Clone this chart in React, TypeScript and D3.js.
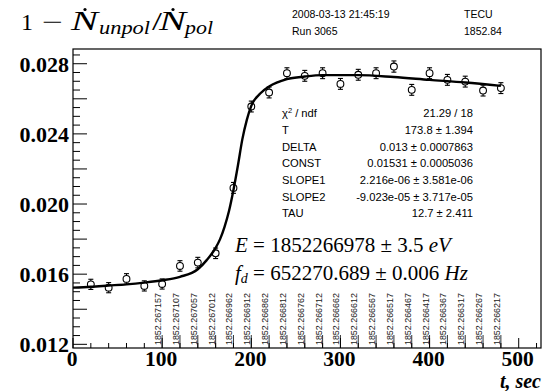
import React from 'react';
import * as d3 from 'd3';

// ---- data ----
const times = [20, 40, 60, 80, 100, 120, 140, 160, 180, 200, 220, 240, 260, 280, 300, 320, 340, 360, 380, 400, 420, 440, 460, 480];
const values = [0.01542, 0.01523, 0.01573, 0.01533, 0.01544, 0.01647, 0.01666, 0.01719, 0.02092, 0.02556, 0.02636, 0.02746, 0.02731, 0.02746, 0.02685, 0.02737, 0.02746, 0.02784, 0.02651, 0.02746, 0.02708, 0.02698, 0.02647, 0.02661];
const errors = [0.00029, 0.00029, 0.0003, 0.00029, 0.00029, 0.0003, 0.0003, 0.0003, 0.00031, 0.00031, 0.00031, 0.00031, 0.00031, 0.00031, 0.00031, 0.00031, 0.00031, 0.00032, 0.00031, 0.00031, 0.00031, 0.00031, 0.00031, 0.00031];

const fitTimes = [0, 20, 40, 60, 80, 100, 120, 140, 150, 160, 165, 170, 175, 180, 185, 190, 195, 200, 210, 220, 240, 260, 280, 320, 360, 400, 440, 480];
const fitValues = [0.01523, 0.01528, 0.01535, 0.01542, 0.01552, 0.01565, 0.01585, 0.01628, 0.0168, 0.0175, 0.0180, 0.0187, 0.0196, 0.0208, 0.0222, 0.0237, 0.0248, 0.0256, 0.0263, 0.0267, 0.02712, 0.02727, 0.02735, 0.02735, 0.02724, 0.02708, 0.02693, 0.02674];

const yTickValues = [0.012, 0.016, 0.020, 0.024, 0.028];
const yTickLabels = ['0.012', '0.016', '0.020', '0.024', '0.028'];
const xTickValues = [0, 100, 200, 300, 400, 500];
const xTickLabels = ['0', '100', '200', '300', '400', '500'];

const energyTimes = [100, 120, 140, 160, 180, 200, 220, 240, 260, 280, 300, 320, 340, 360, 380, 400, 420, 440, 460, 480];
const energyLabels = ['1852.267157', '1852.267107', '1852.267057', '1852.267012', '1852.266962', '1852.266912', '1852.266862', '1852.266812', '1852.266762', '1852.266712', '1852.266662', '1852.266612', '1852.266567', '1852.266517', '1852.266467', '1852.266417', '1852.266367', '1852.266317', '1852.266267', '1852.266217'];

const statNames = ['DELTA', 'CONST', 'SLOPE1', 'SLOPE2', 'TAU'];
const statValues = ['0.013 \u00b1 0.0007863', '0.01531 \u00b1 0.0005036', '2.216e-06 \u00b1 3.581e-06', '-9.023e-05 \u00b1 3.717e-05', '12.7 \u00b1 2.411'];
const chiValue = '21.29 / 18';
const tName = 'T';
const tValue = '173.8 \u00b1 1.394';

const headerDate = '2008-03-13 21:45:19';
const headerRun = 'Run 3065';
const headerName = 'TECU';
const headerVolt = '1852.84';

export default function App() {
  const W = 546, H = 391;
  const left = 73, right = 541, top = 49, bottom = 348;
  const x = d3.scaleLinear().domain([0, 525]).range([left, right]);
  const y = d3.scaleLinear().domain([0.01179, 0.02884]).range([bottom, top]);

  const fitData = fitTimes.map((t, i) => [t, fitValues[i]] as [number, number]);
  const line = d3.line<[number, number]>().x(d => x(d[0])).y(d => y(d[1])).curve(d3.curveMonotoneX);

  const yMinor = d3.range(0, 34).map(i => ({ v: 0.012 + i * 0.0005, i })).filter(d => d.v <= 0.02884);
  const xMinor = d3.range(0, 27).map(i => ({ v: i * 20, i })).filter(d => d.v <= 525);

  const serif = '"Liberation Serif", "Times New Roman", serif';
  const sans = '"Liberation Sans", Arial, Helvetica, sans-serif';
  const r = 3.4;

  return (
    <svg width={W} height={H} style={{ position: 'absolute', left: 0, top: 0, background: '#fff' }}>
      <rect x={0} y={0} width={W} height={H} fill="#fff" />
      {/* title */}
      <g fontFamily={serif} fill="#000">
        <text x={21} y={30} fontSize={24}>1</text>
        <text x={42} y={30} fontSize={24} textLength={21} lengthAdjust="spacingAndGlyphs">{'\u2212'}</text>
        <text x={71} y={30} fontSize={27} fontStyle="italic" textLength={27} lengthAdjust="spacingAndGlyphs">N</text>
        <circle cx={85} cy={9.5} r={1.6} />
        <text x={99} y={34} fontSize={19} fontStyle="italic" textLength={51} lengthAdjust="spacingAndGlyphs">unpol</text>
        <text x={152} y={30} fontSize={26} textLength={10} lengthAdjust="spacingAndGlyphs">/</text>
        <text x={159} y={30} fontSize={27} fontStyle="italic" textLength={27} lengthAdjust="spacingAndGlyphs">N</text>
        <circle cx={173} cy={9.5} r={1.6} />
        <text x={185} y={34} fontSize={19} fontStyle="italic" textLength={28} lengthAdjust="spacingAndGlyphs">pol</text>
      </g>
      {/* header */}
      <g fontFamily={sans} fontSize={10.5} fill="#000">
        <text x={292} y={18}>{headerDate}</text>
        <text x={292} y={35}>{headerRun}</text>
        <text x={464} y={18}>{headerName}</text>
        <text x={464} y={35}>{headerVolt}</text>
      </g>
      {/* frame */}
      <rect x={left} y={top} width={right - left} height={bottom - top} fill="none" stroke="#000" strokeWidth={1.2} />
      {/* y ticks */}
      {yMinor.map(d => {
        const len = d.i % 4 === 0 ? 14 : 7;
        return <line key={'yt' + d.i} x1={left} x2={left + len} y1={y(d.v)} y2={y(d.v)} stroke="#000" strokeWidth={1} />;
      })}
      {yTickValues.map((v, i) => (
        <text key={'yl' + i} x={69} y={y(v) + 8} textAnchor="end" fontFamily={serif} fontWeight="bold" fontSize={22}>{yTickLabels[i]}</text>
      ))}
      {/* x ticks */}
      {xMinor.map(d => {
        const len = d.i % 5 === 0 ? 10 : 5;
        return <line key={'xt' + d.i} x1={x(d.v)} x2={x(d.v)} y1={bottom} y2={bottom - len} stroke="#000" strokeWidth={1} />;
      })}
      {xTickValues.map((v, i) => (
        <text key={'xl' + i} x={x(v) - 1} y={366} textAnchor="middle" fontFamily={serif} fontWeight="bold" fontSize={21.5}>{xTickLabels[i]}</text>
      ))}
      <text x={541} y={388} textAnchor="end" fontFamily={serif} fontWeight="bold" fontStyle="italic" fontSize={20}>t, sec</text>
      {/* energy labels */}
      {energyTimes.map((t, i) => (
        <g key={'en' + i}>
          <line x1={x(t)} x2={x(t)} y1={bottom} y2={bottom - 13} stroke="#000" strokeWidth={0.8} />
          <text transform={`translate(${x(t) - 1},${345}) rotate(-90)`} fontFamily={sans} fontSize={8.9} fill="#222">{energyLabels[i]}</text>
        </g>
      ))}
      {/* fit curve */}
      <path d={line(fitData) || ''} fill="none" stroke="#000" strokeWidth={2.4} />
      {/* data points */}
      {times.map((t, i) => {
        const cx = x(t), cy = y(values[i]);
        const yHi = y(values[i] + errors[i]);
        const yLo = y(values[i] - errors[i]);
        return (
          <g key={'pt' + i} stroke="#000" strokeWidth={1.1}>
            <line x1={cx} x2={cx} y1={yHi} y2={cy - r} />
            <line x1={cx} x2={cx} y1={cy + r} y2={yLo} />
            <line x1={cx - 2.5} x2={cx + 2.5} y1={yHi} y2={yHi} />
            <line x1={cx - 2.5} x2={cx + 2.5} y1={yLo} y2={yLo} />
            <circle cx={cx} cy={cy} r={r} fill="none" />
          </g>
        );
      })}
      {/* stats */}
      <g fontFamily={sans} fontSize={11.2} fill="#000">
        <text x={282} y={117.3}>{'\u03c7'}<tspan dy={-4} fontSize={7.5}>2</tspan><tspan dy={4}>{' / ndf'}</tspan></text>
        <text x={473} y={117.3} textAnchor="end">{chiValue}</text>
        <text x={282} y={134}>{tName}</text>
        <text x={473} y={134} textAnchor="end">{tValue}</text>
        {statNames.map((n, i) => (
          <g key={'st' + i}>
            <text x={282} y={150.7 + i * 16.67}>{n}</text>
            <text x={473} y={150.7 + i * 16.67} textAnchor="end">{statValues[i]}</text>
          </g>
        ))}
      </g>
      {/* energy / frequency */}
      <g fontFamily={serif} fill="#000" fontSize={21}>
        <text x={235} y={252}>
          <tspan fontStyle="italic">E</tspan>
          <tspan>{' = 1852266978 \u00b1 3.5 '}</tspan>
          <tspan fontStyle="italic">eV</tspan>
        </text>
        <text x={235} y={280}>
          <tspan fontStyle="italic">f</tspan>
          <tspan fontStyle="italic" fontSize={14} dy={3}>d</tspan>
          <tspan dy={-3}>{' = 652270.689 \u00b1 0.006 '}</tspan>
          <tspan fontStyle="italic">Hz</tspan>
        </text>
      </g>
    </svg>
  );
}
